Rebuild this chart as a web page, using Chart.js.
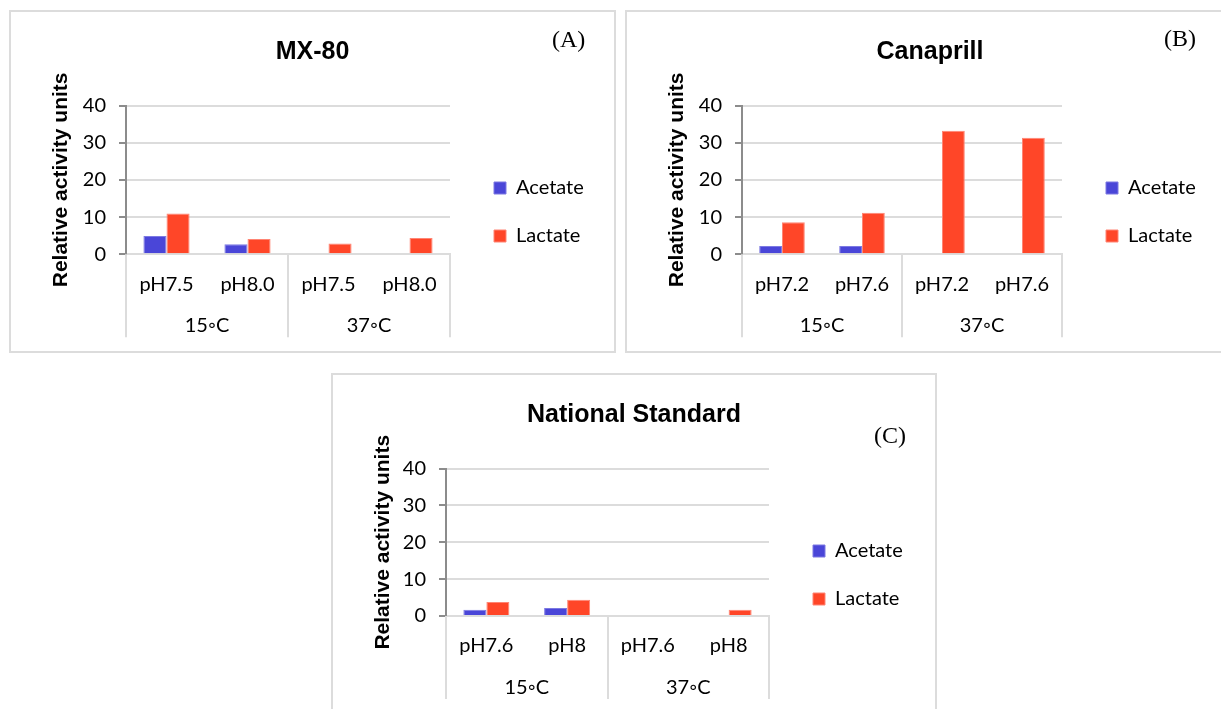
<!DOCTYPE html>
<html lang="en">
<head>
<meta charset="UTF-8">
<title>Relative activity units</title>
<script src="https://cdn.jsdelivr.net/npm/chart.js"></script>
<style>
  body { margin: 0; background: #fff; width: 1221px; height: 709px; overflow: hidden; position: relative; }
  .panel { position: absolute; border: 2px solid #dcdcdc; box-sizing: border-box; overflow: hidden; }
  .panel canvas { display: block; }
  .tag { position: absolute; font-family: 'Liberation Serif', serif; font-size: 24px; line-height: 1; color: #000; }
</style>
</head>
<body>
  <div class="panel" style="left:9px;top:10px;width:607px;height:343px"><canvas id="chartA" width="603" height="339"></canvas></div>
  <div class="panel" style="left:625px;top:10px;width:610px;height:343px"><canvas id="chartB" width="606" height="339"></canvas></div>
  <div class="panel" style="left:331px;top:373px;width:606px;height:343px"><canvas id="chartC" width="602" height="339"></canvas></div>
  <span class="tag" style="left:552px;top:27px">(A)</span>
  <span class="tag" style="left:1164px;top:26px">(B)</span>
  <span class="tag" style="left:874px;top:423px">(C)</span>
<script>
const seriesNames = ['Acetate', 'Lactate'];
const tempGroups = ['15◦C', '37◦C'];

const mxLabels = ['pH7.5', 'pH8.0', 'pH7.5', 'pH8.0'];
const mxAcetate = [4.9, 2.7, 0, 0];
const mxLactate = [11.0, 4.1, 2.9, 4.4];

const canLabels = ['pH7.2', 'pH7.6', 'pH7.2', 'pH7.6'];
const canAcetate = [2.2, 2.2, 0, 0];
const canLactate = [8.6, 11.2, 33.2, 31.3];

const nsLabels = ['pH7.6', 'pH8', 'pH7.6', 'pH8'];
const nsAcetate = [1.7, 2.2, 0, 0];
const nsLactate = [3.8, 4.4, 0, 1.7];

const yMin = 0, yMax = 40, yStep = 10;

Chart.defaults.font.family = 'Lato';
Chart.defaults.color = '#000';

// second row of the category axis: temperature groups with separators
const groupAxis = {
    id: 'groupAxis',
    afterDraw(chart, args, opts) {
        const ctx = chart.ctx;
        const x = chart.scales.x;
        const bottom = chart.chartArea.bottom;
        const per = x.getLabels().length / opts.groups.length;
        ctx.save();
        ctx.strokeStyle = '#dcdcdc';
        ctx.lineWidth = 2;
        for (let k = 0; k <= opts.groups.length; k++) {
            const px = Math.round(x.getPixelForValue(k * per - 0.5));
            ctx.beginPath();
            ctx.moveTo(px, bottom);
            ctx.lineTo(px, bottom + opts.lineLength);
            ctx.stroke();
        }
        ctx.fillStyle = '#000';
        ctx.font = '20px Lato';
        ctx.textAlign = 'center';
        ctx.textBaseline = 'alphabetic';
        opts.groups.forEach((g, k) => {
            ctx.fillText(g, x.getPixelForValue((k + 0.5) * per - 0.5), bottom + opts.labelOffset);
        });
        ctx.restore();
    }
};

// title centred on the whole panel, legend a bit away from the plot
const boxFix = {
    id: 'boxFix',
    afterLayout(chart, args, opts) {
        const t = chart.titleBlock;
        t.left = 0; t.right = chart.width;
        const l = chart.legend;
        l.left += opts.dx; l.right += opts.dx + 80;
        l.top += opts.dy; l.bottom += opts.dy;
    }
};

function makeChart(id, title, labels, acetate, lactate, plotLeft, plotRight, plotBottom) {
    const canvas = document.getElementById(id);
    const W = canvas.width, H = canvas.height;
    return new Chart(canvas, {
        type: 'bar',
        data: {
            labels: labels,
            datasets: [
                { label: seriesNames[0], data: acetate, backgroundColor: '#4A46D8', borderColor: '#7C79E2', borderWidth: 1 },
                { label: seriesNames[1], data: lactate, backgroundColor: '#FF4628', borderColor: '#FF8574', borderWidth: 1 }
            ]
        },
        options: {
            animation: false,
            responsive: false,
            layout: { padding: { top: 0, left: 0, bottom: 0, right: W - plotRight - 100 } },
            datasets: { bar: { categoryPercentage: 0.57, barPercentage: 1 } },
            scales: {
                x: {
                    grid: { display: false },
                    border: { color: '#dcdcdc', width: 2 },
                    ticks: { font: { size: 20 }, padding: 10, maxRotation: 0, autoSkip: false },
                    afterFit: s => { s.height = H - plotBottom; }
                },
                y: {
                    min: yMin,
                    max: yMax,
                    ticks: { stepSize: yStep, font: { size: 20 }, padding: 13 },
                    grid: { color: '#dcdcdc', lineWidth: 2, tickLength: 7, tickColor: '#8c8c8c', tickWidth: 2 },
                    border: { color: '#8c8c8c', width: 2 },
                    title: {
                        display: true,
                        text: 'Relative activity units',
                        font: { family: 'Liberation Sans', size: 21, weight: 'bold' },
                        padding: { top: 38, bottom: 0 }
                    },
                    afterFit: s => { s.width = plotLeft; }
                }
            },
            plugins: {
                title: {
                    display: true,
                    text: title,
                    font: { family: 'Liberation Sans', size: 25, weight: 'bold' },
                    padding: { top: 25, bottom: 38.5 }
                },
                legend: {
                    position: 'right',
                    maxWidth: 100,
                    labels: { boxWidth: 12, boxHeight: 12, padding: 28, font: { size: 20 } }
                },
                tooltip: { enabled: false },
                groupAxis: { groups: tempGroups, lineLength: 83, labelOffset: 78 },
                boxFix: { dx: 16, dy: 30.5 }
            }
        },
        plugins: [groupAxis, boxFix]
    });
}

makeChart('chartA', 'MX-80', mxLabels, mxAcetate, mxLactate, 115, 439, 242.3);
makeChart('chartB', 'Canaprill', canLabels, canAcetate, canLactate, 115, 435, 242.3);
makeChart('chartC', 'National Standard', nsLabels, nsAcetate, nsLactate, 113, 436, 241);
</script>
</body>
</html>
